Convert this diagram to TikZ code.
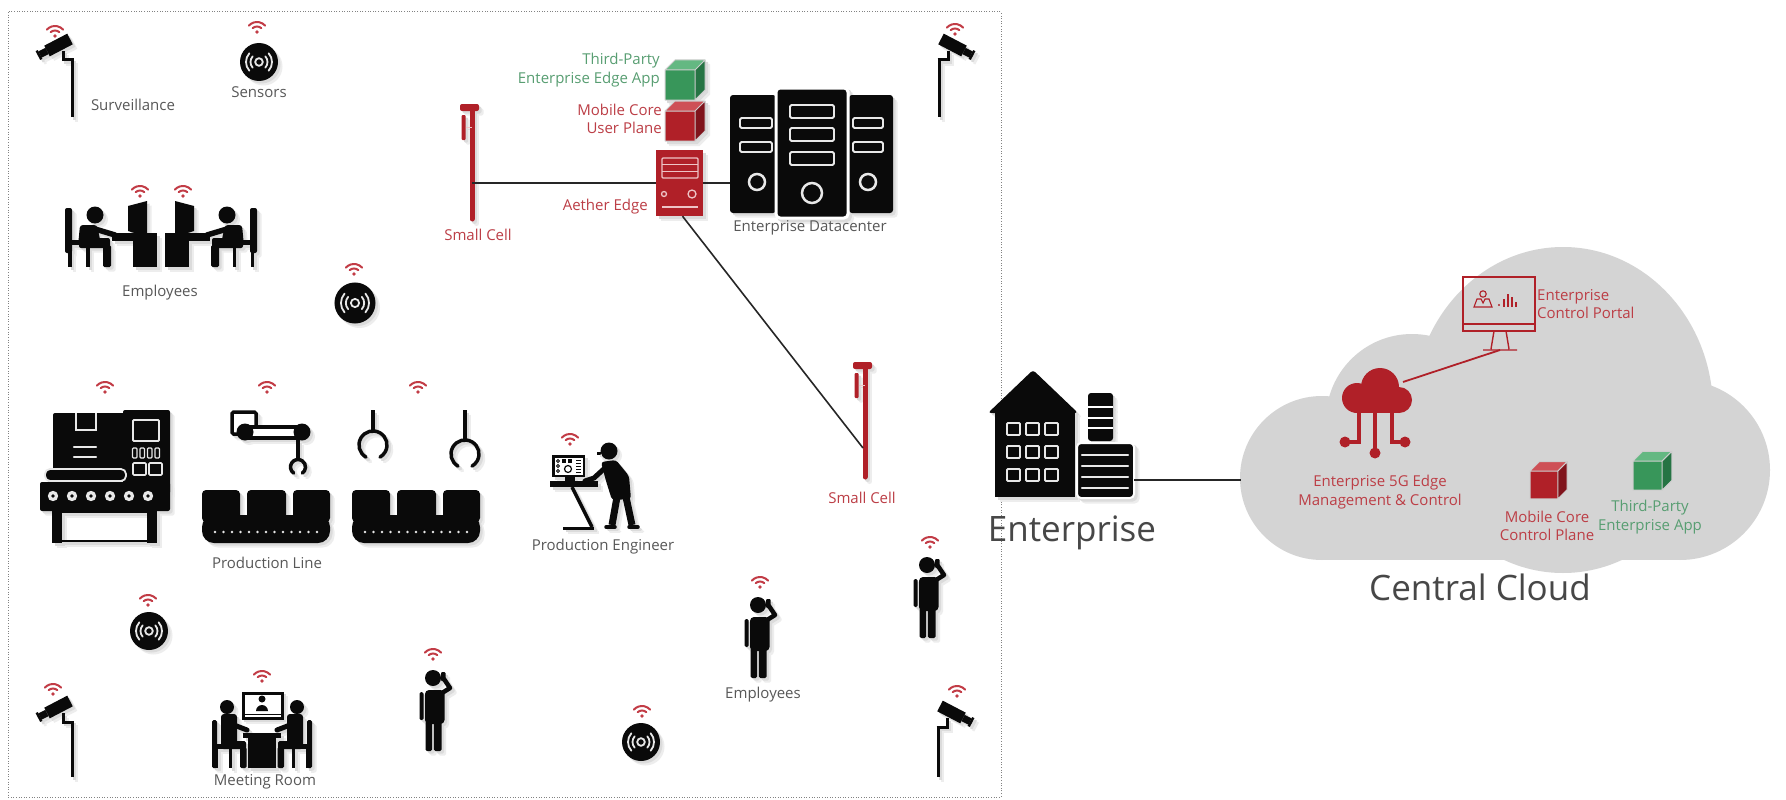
\documentclass[tikz,border=0pt]{standalone}
\usepackage{fontspec}
\setmainfont{Open Sans}
\usetikzlibrary{calc}

\definecolor{iconblack}{RGB}{10,10,10}
\definecolor{iconwhite}{RGB}{232,232,232}
\definecolor{iconfill}{RGB}{255,255,255}
\definecolor{aetherred}{RGB}{176,32,40}
\definecolor{aetherline}{RGB}{238,196,198}
\definecolor{redtxt}{RGB}{188,62,70}
\definecolor{greentxt}{RGB}{88,158,114}
\definecolor{cubegreen}{RGB}{56,150,90}
\definecolor{cubegreentop}{RGB}{100,184,130}
\definecolor{cubegreenside}{RGB}{38,116,68}
\definecolor{cubered}{RGB}{176,32,40}
\definecolor{cuberedtop}{RGB}{206,80,86}
\definecolor{cuberedside}{RGB}{128,20,28}
\definecolor{cubeedge}{RGB}{205,205,205}
\definecolor{wifired}{RGB}{194,60,70}
\definecolor{labelgray}{RGB}{88,88,88}
\definecolor{cloudgray}{RGB}{212,212,212}
\definecolor{bordergray}{RGB}{130,130,130}

% recolour every icon colour to one grey tint (used for drop shadows)
\newcommand{\shadowtint}[1]{%
  \colorlet{iconblack}{black!#1}\colorlet{iconwhite}{black!#1}\colorlet{iconfill}{black!#1}%
  \colorlet{aetherred}{black!#1}\colorlet{aetherline}{black!#1}%
  \colorlet{cubegreen}{black!#1}\colorlet{cubegreentop}{black!#1}\colorlet{cubegreenside}{black!#1}%
  \colorlet{cubered}{black!#1}\colorlet{cuberedtop}{black!#1}\colorlet{cuberedside}{black!#1}%
  \colorlet{cubeedge}{black!#1}}
% draw some icon code with a soft two-layer shadow below and to the right
\newcommand{\withshadow}[1]{%
  \begin{scope}[shift={(4.5,4.5)}]\shadowtint{7}#1\end{scope}%
  \begin{scope}[shift={(2.5,2.5)}]\shadowtint{14}#1\end{scope}%
  #1}

\tikzset{
  lbl/.style={font=\fontsize{15}{18.5}\selectfont, text=labelgray, align=center, inner sep=0pt},
  redlbl/.style={lbl, text=redtxt},
  greenlbl/.style={lbl, text=greentxt},
  biglbl/.style={font=\fontsize{35}{40}\selectfont, text=black!72, inner sep=0pt},
  link/.style={draw=black!85, line width=1.6pt},
  slot/.style={draw=iconwhite, line width=1.8pt, rounded corners=1.5pt},
  % wireless badge
  wifi/.pic={
    \draw[wifired, line width=2pt, line cap=round]
      (0,5) ++(222:11) arc[start angle=222, end angle=318, radius=11]
      (0,5) ++(228:6.5) arc[start angle=228, end angle=312, radius=6.5];
    \fill[wifired] (0,4) circle (1.8);
  },
  % round sensor puck
  sensor/.pic={
    \fill[iconblack] (0,0) circle (19);
    \draw[iconwhite, line width=1.8pt] (0,0) circle (3.8);
    \foreach \r in {8.5,13}{
      \draw[iconwhite, line width=1.8pt, line cap=round]
        (0,0) ++(-42:\r) arc[start angle=-42, end angle=42, radius=\r]
        (0,0) ++(138:\r) arc[start angle=138, end angle=222, radius=\r];
    }
  },
  % surveillance camera on a pole of the given length, origin at the pole top
  pics/camera/.style={code={
    \draw[iconblack, line width=3pt] (0,0) -- (0,#1);
    \draw[iconblack, line width=3pt] (1.5,0) -- (-9,0) -- (-9,-9);
    \draw[iconblack, line width=12pt] (-2,-21) -- (-25,-9);
    \draw[iconblack, line width=7pt] (-25,-9) -- (-32,-5.5);
    \draw[iconblack, line width=2.5pt] (-35.3,-9.4) -- (-30.7,-0.6);
  }},
  % standing person on the phone, origin at the head centre
  person/.pic={
    \fill[iconblack] (0,0) circle (8);
    \fill[iconblack, rounded corners=4pt] (-8,12) rectangle (11.5,46);
    \fill[iconblack, rounded corners=1.5pt] (-13.5,14) rectangle (-9.5,42);
    \fill[iconblack, rounded corners=1.5pt] (-7.5,43) rectangle (-0.8,73);
    \fill[iconblack, rounded corners=1.5pt] (0.8,43) rectangle (8.5,73);
    \draw[iconblack, line width=4.5pt, line cap=round, line join=round] (9,15) -- (17,10) -- (11,1);
    \fill[iconblack, rounded corners=1pt] (8,-6) rectangle (12.5,3);
  },
  % small cell mast, origin at the top of the pole
  smallcell/.pic={
    \draw[aetherred, line width=5pt, line cap=round] (0,2) -- (0,112);
    \fill[aetherred, rounded corners=2pt] (-12,-3) rectangle (7,4);
    \fill[aetherred, rounded corners=1pt] (-10.5,8) rectangle (-6.5,33);
    \draw[aetherline, line width=1pt] (-6.5,20) -- (0,20);
  },
  % conveyor belt with three boxes, origin at top left
  conveyor/.pic={
    \fill[iconblack, rounded corners=4pt] (0,0) rectangle (38,32);
    \fill[iconblack, rounded corners=4pt] (45,0) rectangle (84,32);
    \fill[iconblack, rounded corners=4pt] (91,0) rectangle (128,32);
    \fill[iconblack, rounded corners=12pt] (0,25) rectangle (128,53);
    \foreach \i in {0,...,12} \fill[iconwhite] (13+\i*8.5,42) circle (1.4);
  },
  % seated worker at a desk, drawn to the left of the origin
  deskhalf/.pic={
    \fill[iconblack, rounded corners=2pt] (-96,8) rectangle (-89,53);
    \fill[iconblack] (-94,40) rectangle (-68,45);
    \fill[iconblack] (-93,44) rectangle (-89.5,67);
    \fill[iconblack] (-75,44) rectangle (-71.5,67);
    \fill[iconblack] (-66,15) circle (8.5);
    \fill[iconblack, rounded corners=3pt] (-81,25) -- (-64,25) -- (-60,44) -- (-83,46) -- cycle;
    \draw[iconblack, line width=5.5pt, line cap=round] (-66,29) -- (-46,35);
    \fill[iconblack, rounded corners=2pt] (-82,38) rectangle (-51,48);
    \fill[iconblack, rounded corners=1.5pt] (-58,45) rectangle (-50,67);
    \fill[iconblack] (-49,33) rectangle (-4,41);
    \fill[iconblack] (-28,41) rectangle (-4,67);
    \fill[iconblack] (-33,6) -- (-14,1) -- (-14,37) -- (-33,31) -- cycle;
  },
  % seated person at the meeting table, drawn to the left of the origin
  meethalf/.pic={
    \fill[iconblack, rounded corners=1.5pt] (-50,28) rectangle (-45,76);
    \fill[iconblack] (-48,52) rectangle (-28,57);
    \fill[iconblack] (-47,56) rectangle (-44,76);
    \fill[iconblack] (-33,56) rectangle (-30,76);
    \fill[iconblack] (-35,15) circle (7);
    \fill[iconblack, rounded corners=3pt] (-41,22) rectangle (-25,55);
    \draw[iconblack, line width=5pt, line cap=round] (-28,33) -- (-15,38);
    \fill[iconblack, rounded corners=1.5pt] (-40,49) rectangle (-16,57);
    \fill[iconblack, rounded corners=1.5pt] (-22,55) rectangle (-15.5,76);
    \fill[iconblack] (-19,41) rectangle (0,46);
    \fill[iconblack] (-14,46) rectangle (0,76);
  },
  % shaded cube: front, top and side colours
  pics/cube/.style n args={3}{code={
    \fill[#1] (0,0) rectangle (30,30);
    \fill[#2] (0,0) -- (10,-10) -- (40,-10) -- (30,0) -- cycle;
    \fill[#3] (30,0) -- (40,-10) -- (40,20) -- (30,30) -- cycle;
    \draw[cubeedge, line width=1pt, line join=round]
      (0,0) rectangle (30,30)
      (0,0) -- (10,-10) -- (40,-10) -- (40,20) -- (30,30)
      (30,0) -- (40,-10);
  }},
  % packaging machine (absolute coordinates)
  machine/.pic={
    \fill[iconblack, rounded corners=2pt] (53,413) rectangle (125,472);
    \draw[iconwhite, line width=1.8pt] (76,413) -- (76,430) -- (96,430) -- (96,413);
    \draw[iconwhite, line width=2.2pt, line cap=round] (74,447) -- (96,447) (74,457) -- (96,457);
    \fill[iconblack, rounded corners=2pt] (123,410) rectangle (170,494);
    \draw[iconwhite, line width=1.8pt, rounded corners=1pt] (133,420) rectangle (159,441);
    \foreach \i in {0,...,3} \draw[iconwhite, line width=1.3pt, rounded corners=1pt] (132.5+\i*7.5,448) rectangle (137+\i*7.5,458);
    \draw[iconwhite, line width=1.6pt, rounded corners=1pt] (133,463) rectangle (146,475) (149,463) rectangle (162,475);
    \draw[iconwhite, line width=1.8pt, fill=iconblack, rounded corners=5pt] (45,469) rectangle (126,481);
    \fill[iconblack, rounded corners=2pt] (40,482) rectangle (170,511);
    \foreach \x in {53,72,91,110,129,148} {
      \fill[iconwhite] (\x,496) circle (5.2);
      \fill[iconblack] (\x,496) circle (1.8);
    }
    \fill[iconblack] (52,509) rectangle (62,543);
    \fill[iconblack] (147,509) rectangle (157,543);
    \draw[iconblack, line width=2.5pt] (57,512) rectangle (152,541);
  },
  % robot arm (absolute coordinates)
  robotarm/.pic={
    \draw[iconblack, line width=3.5pt, fill=iconfill, rounded corners=1.5pt] (232,412) rectangle (256,434);
    \draw[iconblack, line width=3.5pt, fill=iconfill] (245,427) rectangle (302,438);
    \fill[iconblack] (245,432) circle (8.5);
    \fill[iconblack] (302,432) circle (8.5);
    \draw[iconblack, line width=3.5pt] (298,440) -- (298,458);
    \draw[iconblack, line width=3.5pt, line cap=round] (298,467) ++(125:7.5) arc[start angle=125, end angle=415, radius=7.5];
  },
  % two hanging grippers (absolute coordinates)
  grippers/.pic={
    \draw[iconblack, line width=3.5pt] (373,410) -- (373,431);
    \draw[iconblack, line width=3.5pt, line cap=round] (373,445) ++(120:14) arc[start angle=120, end angle=420, radius=14];
    \draw[iconblack, line width=3.5pt] (465,410) -- (465,440);
    \draw[iconblack, line width=3.5pt, line cap=round] (465,454) ++(120:14) arc[start angle=120, end angle=420, radius=14];
  },
  % engineer at a standing console (absolute coordinates)
  engineer/.pic={
    \fill[iconblack] (552,455) rectangle (585,477);
    \fill[iconfill] (554.5,457.5) rectangle (582.5,474.5);
    \foreach \y in {461,466,471} \draw[iconblack, line width=0.8pt] (558,\y) circle (1.5);
    \fill[iconblack] (562,459) rectangle (566,463);
    \fill[iconblack] (568,459) rectangle (572,463);
    \draw[iconblack, line width=1.2pt] (568,469) circle (3.5);
    \foreach \y in {460,463,466,469,472} \draw[iconblack, line width=1pt] (576,\y) -- (581,\y);
    \fill[iconblack] (565,477) rectangle (575,481);
    \fill[iconblack] (550,481) rectangle (598,487);
    \draw[iconblack, line width=3.5pt] (572,487) -- (592,527);
    \draw[iconblack, line width=3pt] (563,528) -- (594,528);
    \fill[iconblack] (609,451) circle (8.5);
    \draw[iconblack, line width=3pt] (597,453) -- (605,453);
    \draw[iconwhite, line width=1pt] (601,454) arc[start angle=180, end angle=90, radius=7];
    \fill[iconblack, rounded corners=3pt] (601,462) -- (616,460) -- (629,476) -- (631,499) -- (612,500) -- (606,481) -- cycle;
    \draw[iconblack, line width=5pt, line cap=round, line join=round] (606,467) -- (594,478) -- (585,481);
    \draw[iconblack, line width=7pt] (617,497) -- (612,525) (626,497) -- (632,525);
    \draw[iconblack, line width=3.5pt, line cap=round] (606,527) -- (615,527) (629,527) -- (638,527);
  },
  % video screen of the meeting room (absolute coordinates)
  meetscreen/.pic={
    \draw[iconblack, line width=3pt, fill=iconfill] (243,693) rectangle (282,718);
    \draw[iconblack, line width=1pt] (244,714) -- (281,714);
    \fill[iconblack] (262,699) circle (3.5);
    \fill[iconblack] (256,711) arc[start angle=180, end angle=360, radius=6] -- cycle;
  },
  % edge server box (absolute coordinates)
  aetherbox/.pic={
    \fill[aetherred] (656,150) rectangle (703,216);
    \draw[aetherline, line width=1.3pt, rounded corners=1pt] (662,158) rectangle (698,178);
    \draw[aetherline, line width=1.3pt] (662,164.7) -- (698,164.7) (662,171.3) -- (698,171.3);
    \draw[aetherline, line width=1.3pt] (664,194) circle (2.5) (692,194) circle (4);
    \draw[aetherline, line width=1.5pt] (662,207) -- (698,207);
  },
  % three datacenter racks (absolute coordinates)
  racks/.pic={
    \fill[iconblack, rounded corners=3pt] (730,95) rectangle (776,213);
    \draw[slot] (740,118) rectangle (772,128) (740,142) rectangle (772,152);
    \draw[iconwhite, line width=2.5pt] (757,182) circle (8);
    \fill[iconblack, rounded corners=3pt] (849,95) rectangle (893,213);
    \draw[slot] (853,118) rectangle (883,128) (853,142) rectangle (883,152);
    \draw[iconwhite, line width=2.5pt] (868,182) circle (8);
    \draw[iconfill, line width=3pt, fill=iconblack, rounded corners=4pt] (776,88) rectangle (848,218);
    \draw[slot] (790,105) rectangle (834,118) (790,128) rectangle (834,141) (790,152) rectangle (834,165);
    \draw[iconwhite, line width=2.5pt] (812,193) circle (10);
  },
  % enterprise building (absolute coordinates)
  building/.pic={
    \fill[iconblack, rounded corners=3pt] (988,413) -- (1033,370) -- (1078,413) -- cycle;
    \fill[iconblack] (995,411) rectangle (1075,497);
    \foreach \x in {1007,1026,1045} \foreach \y in {423,446,469}
      \draw[iconwhite, line width=1.8pt, fill=iconblack, rounded corners=1pt] (\x,\y) rectangle (\x+13,\y+12);
    \fill[iconblack, rounded corners=3pt] (1088,393) rectangle (1113,441);
    \draw[iconfill, line width=2pt] (1088,407) -- (1113,407) (1088,417.5) -- (1113,417.5) (1088,428) -- (1113,428);
    \draw[iconfill, line width=2pt, fill=iconblack, rounded corners=4pt] (1077,443) rectangle (1134,498);
    \foreach \y in {455,466,477,488} \draw[iconwhite, line width=2.4pt, line cap=round] (1082,\y) -- (1128,\y);
  },
}

\begin{document}
\begin{tikzpicture}[x=1pt, y=-1pt]
\useasboundingbox (0,0) rectangle (1786,800);
\fill[white] (0,0) rectangle (1786,800);

% ---------------- enterprise premises ----------------
\draw[bordergray, line width=1pt, dash pattern=on 1pt off 1.6pt] (8,12) rectangle (1001,797);

% surveillance cameras
\withshadow{\pic at (72,60) {camera=57};}
\pic at (55,32) {wifi};
\withshadow{\pic[xscale=-1] at (939,60) {camera=57};}
\pic at (955,30) {wifi};
\withshadow{\pic at (72,722) {camera=55};}
\pic at (53,690) {wifi};
\withshadow{\pic[xscale=-1] at (938,727) {camera=50};}
\pic at (957,692) {wifi};
\node[lbl] (survlbl) at (133,105) {Surveillance};

% sensors
\withshadow{\pic at (259,62) {sensor};}
\pic at (257,28) {wifi};
\node[lbl] (senslbl) at (259,92) {Sensors};
\withshadow{\pic[scale=1.08] at (355,303) {sensor};}
\pic at (354,270) {wifi};
\withshadow{\pic at (149,631) {sensor};}
\pic at (148,601) {wifi};
\withshadow{\pic at (641,742) {sensor};}
\pic at (642,712) {wifi};

% office workers
\withshadow{\pic at (161,200) {deskhalf}; \pic[xscale=-1] at (161,200) {deskhalf};}
\pic at (140,192) {wifi};
\pic at (183,192) {wifi};
\node[lbl] (emplbl1) at (160,293) {Employees};

% production line
\withshadow{\pic at (0,0) {machine};}
\pic at (105,388) {wifi};
\withshadow{\pic at (0,0) {robotarm}; \pic at (202,490) {conveyor};}
\pic at (267,388) {wifi};
\withshadow{\pic at (0,0) {grippers}; \pic at (352,490) {conveyor};}
\pic at (418,388) {wifi};
\node[lbl] (prodlbl) at (267,563) {Production Line};

% production engineer
\withshadow{\pic at (0,0) {engineer};}
\pic at (570,440) {wifi};
\node[lbl] (englbl) at (603,547) {Production Engineer};

% meeting room
\withshadow{\pic at (262,692) {meethalf}; \pic[xscale=-1] at (262,692) {meethalf}; \pic at (0,0) {meetscreen};}
\pic at (262,677) {wifi};
\node[lbl] (meetlbl) at (265,782) {Meeting Room};

% people on the phone
\withshadow{\pic at (433,678) {person};}
\pic at (433,655) {wifi};
\withshadow{\pic at (758,605) {person};}
\pic at (760,583) {wifi};
\node[lbl] (emplbl2) at (763,695) {Employees};
\withshadow{\pic at (927,565) {person};}
\pic at (930,543) {wifi};

% ---------------- edge site ----------------
\withshadow{\pic at (472,107) {smallcell};}
\coordinate (cell1) at (472,183);
\node[redlbl] (cell1lbl) at (478,235) {Small Cell};

\withshadow{\pic at (865,365) {smallcell};}
\coordinate (cell2) at (863,448);
\node[redlbl] (cell2lbl) at (862,498) {Small Cell};

% edge server with its application cubes
\withshadow{\pic at (0,0) {aetherbox};
  \pic at (665,70) {cube={cubegreen}{cubegreentop}{cubegreenside}};
  \pic at (665,111) {cube={cubered}{cuberedtop}{cuberedside}};}
\node[inner sep=0pt, minimum width=47pt, minimum height=66pt] (aether) at (679.5,183) {};
\node[redlbl, anchor=east] (aetherlbl) at (648,207) {Aether Edge};
\node[greenlbl, anchor=east, align=right] (edgeapplbl) at (660,70) {Third-Party\\Enterprise Edge App};
\node[redlbl, anchor=east, align=right] (uplbl) at (662,119) {Mobile Core\\User Plane};

% enterprise datacenter
\withshadow{\pic at (0,0) {racks};}
\node[inner sep=0pt, minimum width=163pt, minimum height=130pt] (dc) at (811.5,153) {};
\node[lbl] (dclbl) at (810,228) {Enterprise Datacenter};

% links at the edge
\draw[link] (cell1) -- (aether.west |- cell1);
\draw[link] (aether.east) -- (aether.east -| dc.west);
\draw[link] ($(aether.south)+(3,0)$) -- (cell2);

% ---------------- enterprise building ----------------
\withshadow{\pic at (0,0) {building};}
\coordinate (entport) at (1134,480);
\node[biglbl] (entlbl) at (1072,533) {Enterprise};

% ---------------- central cloud (union of lobes) ----------------
\fill[cloudgray] (1322,440) rectangle (1680,560);
\fill[cloudgray] (1322,478) circle (82);
\fill[cloudgray] (1412,420) circle (86);
\fill[cloudgray] (1563,410) ellipse [x radius=150, y radius=163];
\fill[cloudgray] (1680,470) circle (90);
\coordinate (cloudport) at (1241,480);
\draw[link] (entport) -- (cloudport);
\node[biglbl] (cloudlbl) at (1480,587) {Central Cloud};

% management cloud icon
\fill[aetherred] (1357,398) circle (15);
\fill[aetherred] (1380,387) circle (19);
\fill[aetherred] (1399,400) circle (13);
\fill[aetherred] (1357,398) rectangle (1399,413);
\draw[aetherred, line width=4.5pt] (1359,410) -- (1359,442) -- (1347,442);
\fill[aetherred] (1345,442) circle (5.5);
\draw[aetherred, line width=4.5pt] (1375,410) -- (1375,450);
\fill[aetherred] (1375,453) circle (5.5);
\draw[aetherred, line width=4.5pt] (1392,410) -- (1392,442) -- (1403,442);
\fill[aetherred] (1405,442) circle (5.5);
\coordinate (mgmt) at (1403,382);
\node[redlbl] (mgmtlbl) at (1380,492) {Enterprise 5G Edge\\Management \& Control};

% control portal monitor
\draw[aetherred, line width=1.6pt] (1463,277) rectangle (1535,331);
\draw[aetherred, line width=1.2pt] (1463,324) -- (1535,324);
\draw[aetherred, line width=1.4pt] (1494,331) -- (1491,349) (1506,331) -- (1509,349) (1483,350) -- (1517,350);
\draw[aetherred, line width=1.1pt] (1483,294) circle (3.2);
\draw[aetherred, line width=1.1pt] (1474,307) -- (1477,299) -- (1481,299) -- (1483,303) -- (1485,299) -- (1489,299) -- (1492,307) -- cycle;
\fill[aetherred] (1499,305) circle (1.1);
\foreach \x/\h in {1503/8,1507/13,1511/10,1515/5} \fill[aetherred] (\x,307-\h) rectangle (\x+1.6,307);
\coordinate (portal) at (1500,350);
\node[redlbl, anchor=west, align=left] (portallbl) at (1537,304) {Enterprise\\Control Portal};
\draw[aetherred, line width=1.8pt] (mgmt) -- (portal);

% cloud-hosted cubes
\pic[scale=0.93] at (1530,471) {cube={cubered}{cuberedtop}{cuberedside}};
\node[redlbl] (cplbl) at (1547,526) {Mobile Core\\Control Plane};
\pic[scale=0.97] at (1633,461) {cube={cubegreen}{cubegreentop}{cubegreenside}};
\node[greenlbl] (applbl) at (1650,517) {Third-Party\\Enterprise App};

\end{tikzpicture}
\end{document}
